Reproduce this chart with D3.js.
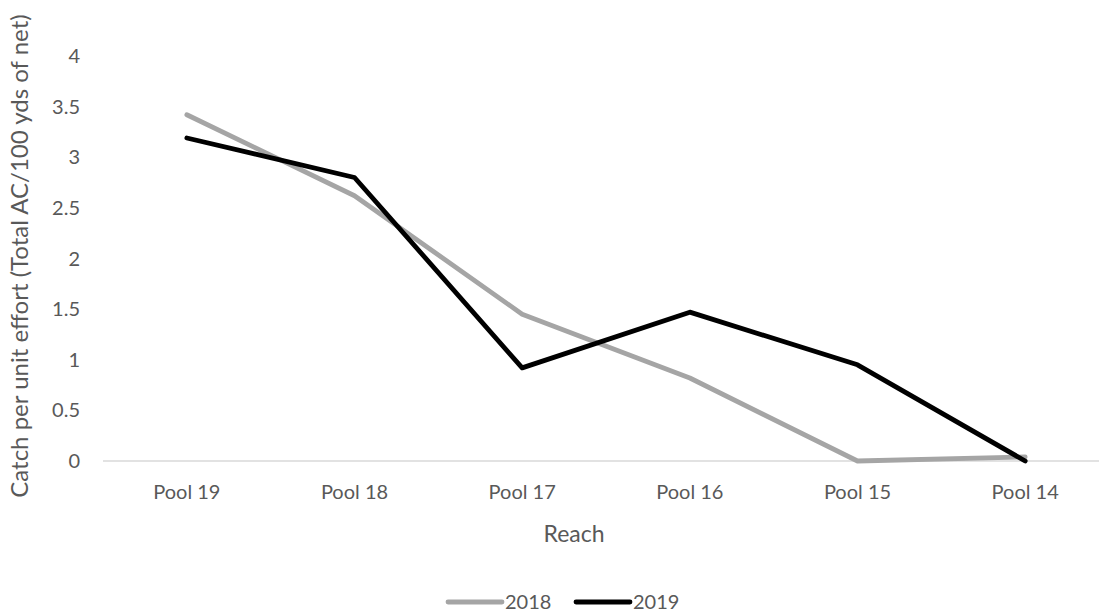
<!DOCTYPE html>
<html>
<head>
<meta charset="utf-8">
<script src="https://cdn.jsdelivr.net/npm/d3@7"></script>
<style>
body { margin: 0; background: #fff; }
text { font-family: Lato, "Open Sans", sans-serif; fill: #595959; }
</style>
</head>
<body>
<script>
var reaches = ["Pool 19", "Pool 18", "Pool 17", "Pool 16", "Pool 15", "Pool 14"];
var yTicks = [0, 0.5, 1, 1.5, 2, 2.5, 3, 3.5, 4];
var cpue2018 = [3.42, 2.62, 1.45, 0.82, 0, 0.04];
var cpue2019 = [3.19, 2.80, 0.92, 1.47, 0.95, 0];
var seriesNames = ["2018", "2019"];
var seriesColors = ["#a5a5a5", "#000000"];

var width = 1099, height = 613;
var svg = d3.select("body").append("svg").attr("width", width).attr("height", height);

var x = d3.scaleBand().domain(reaches).range([103, 1109]);
var y = d3.scaleLinear().domain([0, 4]).range([461, 56]);

// baseline
svg.append("line")
  .attr("x1", 103).attr("x2", 1109)
  .attr("y1", y(0)).attr("y2", y(0))
  .attr("stroke", "#d9d9d9").attr("stroke-width", 1.3);

// y tick labels
svg.selectAll(".ytick").data(yTicks).enter().append("text")
  .attr("class", "ytick")
  .attr("x", 80).attr("y", function(d){ return y(d); })
  .attr("dy", "0.35em").attr("text-anchor", "end")
  .style("font-size", "20px")
  .text(function(d){ return d; });

// x tick labels
svg.selectAll(".xtick").data(reaches).enter().append("text")
  .attr("class", "xtick")
  .attr("x", function(d){ return x(d) + x.bandwidth()/2; })
  .attr("y", 499).attr("text-anchor", "middle")
  .style("font-size", "20px")
  .text(function(d){ return d; });

// axis titles
svg.append("text")
  .attr("x", 574).attr("y", 542).attr("text-anchor", "middle")
  .style("font-size", "23px").text("Reach");

svg.append("text")
  .attr("transform", "translate(28,256) rotate(-90)")
  .attr("text-anchor", "middle")
  .style("font-size", "24px")
  .text("Catch per unit effort (Total AC/100 yds of net)");

var line = d3.line()
  .x(function(d, i){ return x(reaches[i]) + x.bandwidth()/2; })
  .y(function(d){ return y(d); });

[cpue2018, cpue2019].forEach(function(vals, k){
  svg.append("path")
    .attr("d", line(vals))
    .attr("fill", "none")
    .attr("stroke", seriesColors[k])
    .attr("stroke-width", 4.8)
    .attr("stroke-linejoin", "round")
    .attr("stroke-linecap", "round");
});

// legend
var legX = [448, 576];
seriesNames.forEach(function(name, k){
  svg.append("line")
    .attr("x1", legX[k]).attr("x2", legX[k] + 54)
    .attr("y1", 602).attr("y2", 602)
    .attr("stroke", seriesColors[k]).attr("stroke-width", 4.8)
    .attr("stroke-linecap", "round");
  svg.append("text")
    .attr("x", legX[k] + 57).attr("y", 602).attr("dy", "0.35em")
    .style("font-size", "20px")
    .text(name);
});
</script>
</body>
</html>
